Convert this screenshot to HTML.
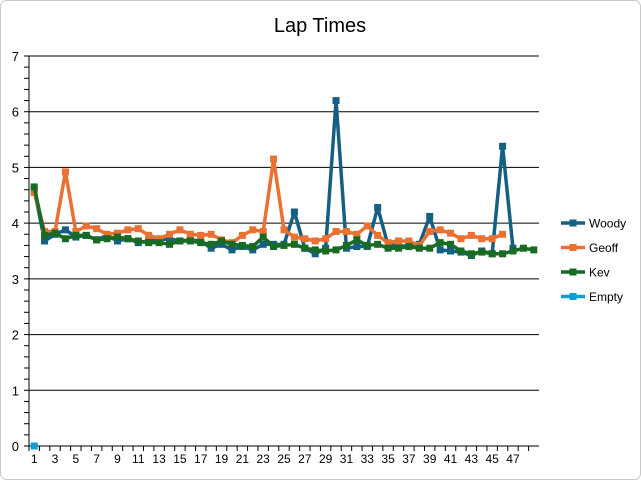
<!DOCTYPE html>
<html><head><meta charset="utf-8"><style>
html,body{margin:0;padding:0;background:#fff;}
svg{display:block;font-family:"Liberation Sans",sans-serif;}
</style></head><body>
<svg id="chart" width="641" height="480">
<rect x="0.5" y="0.5" width="640" height="479" rx="6" fill="#fff" stroke="#c8c8c8"/>
<text x="320" y="32" text-anchor="middle" font-size="20" fill="#000">Lap Times</text>
<g id="grid"></g><g id="axes"></g><g id="series"></g><g id="legend"></g>
</svg>
<script>
const categories = Array.from({length:49},(_,i)=>i+1);
const yTicks = [0,1,2,3,4,5,6,7];
const seriesNames = ["Woody","Geoff","Kev","Empty"];
const seriesColors = ["#156082","#e97132","#196b24","#0f9ed5"];
const woody = [4.6,3.68,3.8,3.88,3.75,3.78,3.7,3.78,3.68,3.72,3.65,3.68,3.7,3.72,3.68,3.7,3.68,3.55,3.62,3.52,3.58,3.52,3.62,3.62,3.62,4.2,3.55,3.45,3.55,6.2,3.55,3.58,3.58,4.28,3.6,3.6,3.58,3.62,4.12,3.52,3.5,3.48,3.42,3.5,3.45,5.38,3.55];
const geoff = [4.55,3.85,3.85,4.92,3.85,3.95,3.9,3.8,3.82,3.88,3.9,3.78,3.72,3.8,3.88,3.8,3.78,3.8,3.7,3.65,3.78,3.88,3.85,5.15,3.88,3.75,3.72,3.68,3.72,3.85,3.85,3.8,3.95,3.78,3.65,3.68,3.68,3.6,3.85,3.88,3.82,3.72,3.78,3.72,3.72,3.8];
const kev = [4.65,3.78,3.82,3.72,3.78,3.78,3.7,3.72,3.75,3.72,3.68,3.65,3.65,3.62,3.68,3.68,3.65,3.62,3.68,3.62,3.6,3.58,3.75,3.58,3.6,3.62,3.55,3.52,3.5,3.52,3.6,3.7,3.6,3.62,3.55,3.55,3.58,3.55,3.55,3.65,3.62,3.5,3.45,3.48,3.45,3.45,3.5,3.55,3.52];
const empty = [0];
const seriesData = [woody,geoff,kev,empty];

const NS="http://www.w3.org/2000/svg";
const L=29,R=539,T=56,B=446,yMax=7;
const band=(R-L)/categories.length;
const x=i=>L+band*(i+0.5);
const y=v=>B-(v/yMax)*(B-T);
function mk(tag,attrs,parent){const e=document.createElementNS(NS,tag);for(const k in attrs)e.setAttribute(k,attrs[k]);parent.appendChild(e);return e;}
const grid=document.getElementById('grid'),axes=document.getElementById('axes'),ser=document.getElementById('series'),leg=document.getElementById('legend');
yTicks.forEach(t=>{
  if(t>0){const g=mk('line',{x1:L,x2:R,y1:y(t),y2:y(t),stroke:'#000','stroke-width':1},grid);
  
  }
  const lb=mk('text',{x:L-10,y:y(t)+5,'text-anchor':'end','font-size':13,fill:'#000'},axes);lb.textContent=t;
  
  
});
for(let v=0;v<=yMax+0.001;v+=0.2){const tk=mk('line',{x1:L-5,x2:L,y1:y(v),y2:y(v),stroke:'#000'},axes);
  
  }
const ya=mk('line',{x1:L,x2:L,y1:T,y2:B,stroke:'#000'},axes);


const xa=mk('line',{x1:L,x2:R,y1:B,y2:B,stroke:'#000'},axes);


categories.forEach((c,i)=>{
  const tk=mk('line',{x1:L+band*i,x2:L+band*i,y1:B,y2:B+5,stroke:'#000'},axes);
  
  
  if(i%2===0 && c<=47){const lb=mk('text',{x:x(i),y:B+17,'text-anchor':'middle','font-size':12,fill:'#000'},axes);lb.textContent=c;
  
  }
});
seriesData.forEach((d,s)=>{
  const col=seriesColors[s];
  if(d.length>1){const p=mk('polyline',{points:d.map((v,i)=>x(i)+','+y(v)).join(' '),fill:'none',stroke:col,'stroke-width':3.5,'stroke-linejoin':'round'},ser);
  
  }
  d.forEach((v,i)=>{const m=mk('rect',{x:x(i)-3.5,y:y(v)-3.5,width:7,height:7,fill:col},ser);
    
    });
  const ly=223+s*24.5;
  const ll=mk('line',{x1:561,x2:585,y1:ly,y2:ly,stroke:col,'stroke-width':3.5},leg);
  
  
  const lm=mk('rect',{x:569.5,y:ly-3.5,width:7,height:7,fill:col},leg);
  
  
  const lt=mk('text',{x:589,y:ly+4.5,'font-size':12,fill:'#000'},leg);lt.textContent=seriesNames[s];
  
  
});
</script>
</body></html>
